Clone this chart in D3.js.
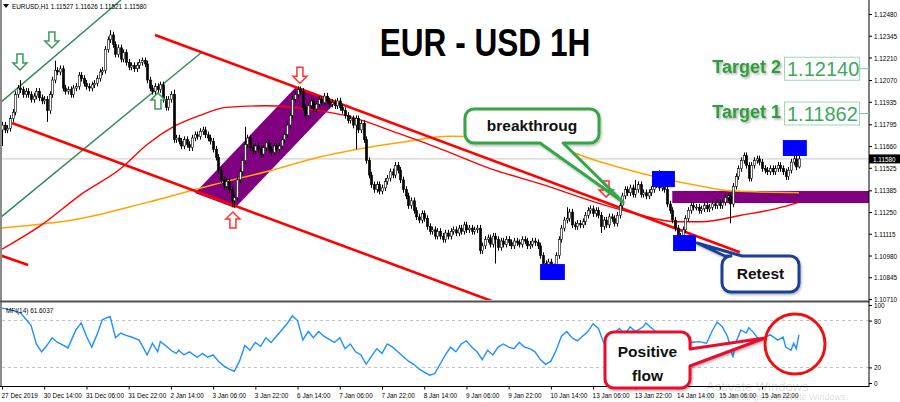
<!DOCTYPE html>
<html><head><meta charset="utf-8">
<script src="https://cdn.jsdelivr.net/npm/d3@7"></script>
<style>
html,body{margin:0;padding:0;background:#fff;}
svg{display:block;font-family:"Liberation Sans",Arial,sans-serif;}
</style></head><body>
<svg id="c" width="900" height="402"></svg>
<script>
// ---------- DATA ----------
const symbolHeader = "EURUSD,H1  1.11527 1.11626 1.11521 1.11580";
const chartTitle = "EUR - USD 1H";
const firstOpen = 1.1176;
const closes = [
1.1179,1.1176,1.1177,1.1183,1.1187,1.1198,1.1202,1.1201,1.1198,1.1200,
1.1198,1.1195,1.1197,1.1200,1.1196,1.1194,1.1195,1.1188,1.1198,1.1207,
1.1213,1.1212,1.1214,1.1202,1.1200,1.1201,1.1198,1.1202,1.1203,1.1210,
1.1208,1.1205,1.1203,1.1202,1.1204,1.1205,1.1208,1.1212,1.1213,1.1226,
1.1232,1.1235,1.1229,1.1223,1.1227,1.1220,1.1224,1.1218,1.1215,1.1216,
1.1214,1.1216,1.1218,1.1219,1.1217,1.1207,1.1202,1.1200,1.1203,1.1201,
1.1204,1.1195,1.1190,1.1195,1.1198,1.1170,1.1171,1.1169,1.1166,1.1170,
1.1167,1.1165,1.1171,1.1173,1.1172,1.1175,1.1176,1.1173,1.1171,1.1169,
1.1164,1.1159,1.1151,1.1145,1.1141,1.1144,1.1139,1.1132,1.1134,1.1145,
1.1150,1.1157,1.1167,1.1171,1.1165,1.1163,1.1166,1.1164,1.1161,1.1165,
1.1168,1.1164,1.1162,1.1166,1.1164,1.1166,1.1170,1.1173,1.1179,1.1185,
1.1195,1.1198,1.1201,1.1200,1.1190,1.1185,1.1191,1.1194,1.1189,1.1192,
1.1195,1.1193,1.1197,1.1194,1.1192,1.1193,1.1191,1.1194,1.1190,1.1188,
1.1185,1.1182,1.1183,1.1179,1.1183,1.1176,1.1180,1.1170,1.1157,1.1148,
1.1142,1.1139,1.1142,1.1138,1.1140,1.1144,1.1146,1.1150,1.1148,1.1154,
1.1151,1.1145,1.1139,1.1135,1.1129,1.1132,1.1126,1.1122,1.1120,1.1124,
1.1121,1.1116,1.1113,1.1114,1.1110,1.1113,1.1110,1.1108,1.1112,1.1110,
1.1113,1.1114,1.1112,1.1115,1.1113,1.1117,1.1114,1.1115,1.1113,1.1114,
1.1115,1.1101,1.1104,1.1108,1.1109,1.1105,1.1110,1.1108,1.1103,1.1107,
1.1105,1.1108,1.1106,1.1104,1.1107,1.1106,1.1105,1.1108,1.1107,1.1104,
1.1105,1.1107,1.1106,1.1104,1.1098,1.1093,1.1090,1.1094,1.1088,1.1091,
1.1098,1.1108,1.1115,1.1120,1.1121,1.1125,1.1117,1.1116,1.1118,1.1117,
1.1119,1.1123,1.1126,1.1127,1.1124,1.1126,1.1123,1.1116,1.1120,1.1117,
1.1122,1.1121,1.1118,1.1123,1.1129,1.1135,1.1139,1.1137,1.1140,1.1136,
1.1139,1.1142,1.1136,1.1137,1.1135,1.1137,1.1139,1.1142,1.1143,1.1140,
1.1144,1.1139,1.1130,1.1126,1.1120,1.1115,1.1108,1.1110,1.1114,1.1121,
1.1126,1.1129,1.1128,1.1128,1.1126,1.1127,1.1129,1.1127,1.1128,1.1130,
1.1129,1.1131,1.1129,1.1131,1.1134,1.1135,1.1130,1.1141,1.1147,1.1152,
1.1157,1.1160,1.1154,1.1146,1.1154,1.1157,1.1158,1.1156,1.1152,1.1151,
1.1150,1.1152,1.1150,1.1152,1.1154,1.1152,1.1150,1.1147,1.1151,1.1156,
1.1158,1.1153,1.1158
];
const highSpikes = {7:1.1207,20:1.1219,41:1.1238,53:1.1221,65:1.1201,92:1.1178,112:1.1203,214:1.1128,240:1.1145,249:1.1151,281:1.1162,302:1.11626};
const lowSpikes  = {0:1.1166,17:1.1181,87:1.1128,88:1.1128,134:1.1164,187:1.1093,206:1.1085,208:1.1084,227:1.1112,256:1.1106,276:1.1118,297:1.1145,302:1.11521};
const redMA = [[-1,1.1101],[15,1.1117],[30,1.1136],[45,1.1152],[55,1.1167],[65,1.1178],[75,1.1185],[85,1.1190],[100,1.1191],[120,1.1188],[130,1.1185],[150,1.1174],[165,1.1165],[185,1.1152],[205,1.1142],[225,1.1131],[240,1.1124],[255,1.1119],[265,1.1119],[280,1.1123],[293,1.1127],[302,1.1131]];
const orangeMA = [[-1,1.1115],[30,1.1121],[55,1.1131],[80,1.1142],[100,1.1150],[120,1.1159],[150,1.1168],[170,1.1172],[190,1.1171],[205,1.1168],[225,1.1157],[250,1.1146],[265,1.1141],[277,1.1138],[302,1.1137]];
const mfiPoints = [[0,96],[3,94],[7,90],[9,82],[11,74],[13,50],[15,40],[17,48],[19,58],[21,52],[23,49],[25,45],[28,68],[30,77],[32,60],[34,46],[36,62],[38,81],[40,84],[41,85],[43,58],[45,64],[47,61],[49,59],[52,55],[55,36],[57,51],[59,40],[60,53],[62,48],[64,42],[66,38],[67,42],[69,36],[71,40],[74,33],
[76,38],[78,33],[80,36],[82,28],[84,22],[86,18],[88,15],[90,28],[92,48],[94,42],[96,52],[98,47],[100,58],[102,52],[104,60],[106,68],[108,76],[110,86],[112,80],[114,55],[116,66],[118,58],[120,66],[122,60],[124,56],[126,52],[128,58],[130,44],[132,50],[134,40],[136,36],[138,24],[140,34],[142,44],[144,38],[146,50],[148,46],[150,40],[152,34],[154,28],[156,24],[158,18],[160,14],[162,10],[164,12],[166,24],[168,36],[170,46],[172,40],[174,50],[176,54],[178,46],[180,40],[182,30],[184,42],[186,36],[188,46],[190,50],[192,46],[194,44],[196,52],[198,46],[200,44],[202,40],[204,30],[206,24],[208,28],[210,42],[212,60],[214,66],[216,58],[218,54],[220,60],[222,66],[224,76],[226,70],[228,52],[230,58],[232,64],[234,70],[236,62],[238,72],[240,66],[243,72],[244,77],[247,68],[250,60],[253,50],[256,40],[258,46],[261,52],[264,53],[267,51],[269,66],[271,78],[273,72],[275,59],[277,33],[278,51],[280,68],[282,64],[283,71],[285,64],[286,59],[288,55],[291,62],[294,55],[296,59],[297,46],[299,42],[300,51],[301,44],[302,61.6]];
const mfiLabel = "MFI(14) 61.6037";
const priceTicks = [1.12480,1.12345,1.12210,1.12070,1.11935,1.11795,1.11660,1.11525,1.11385,1.11250,1.11115,1.10980,1.10845,1.10710];
const currentPrice = 1.11580;
const mfiTicks = [100,80,20,0];
const mfiLevels = [80,20];
const timeLabels = ["27 Dec 2019","30 Dec 14:00","31 Dec 06:00","31 Dec 22:00","2 Jan 14:00","3 Jan 06:00","3 Jan 22:00","6 Jan 14:00","7 Jan 06:00","7 Jan 22:00","8 Jan 14:00","9 Jan 06:00","9 Jan 22:00","10 Jan 14:00","13 Jan 06:00","13 Jan 22:00","14 Jan 14:00","15 Jan 06:00","15 Jan 22:00"];
const barsPerLabel = 16;
const targets = [{label:"Target 2", value:1.12140}, {label:"Target 1", value:1.11862}];
// drawn objects in (bar, price) coordinates
const redTrendLines = [[[57.97,1.12350],[279.6,1.11000]],[[3.8,1.11803],[200,1.10610]],[[-0.8,1.10983],[9.9,1.10921]]];
const greenLines = [[[-0.8,1.11927],[45.1,1.12567]],[[-0.8,1.11213],[75.8,1.12244]]];
const purpleChannel = [[73.1,1.11368],[88.3,1.11275],[126.6,1.11933],[111.4,1.12027]];
const purpleZone = {from:254, to:340, low:1.11306, high:1.11381};
const blueBoxes = [[203.9,213.3,1.10828,1.10927],[246.3,255.0,1.11405,1.11505],[254.3,263.0,1.11008,1.11107],[295.9,305.0,1.11598,1.11697]];
const greenArrows = [{bar:6.8,price:1.12132,dir:"down"},{bar:18.9,price:1.12269,dir:"down"},{bar:59.1,price:1.11990,dir:"up"}];
const redArrows = [{bar:112.9,price:1.12050,dir:"down"},{bar:87.5,price:1.11250,dir:"up"},{bar:228.9,price:1.11343,dir:"down"}];

// ---------- SCALES ----------
const svg = d3.select("#c");
const plotRight = 869;
const squeeze = 0.8; // the screenshot's small texts are horizontally narrow
const x = d3.scaleLinear().domain([0, 288]).range([2, 762]);
const y = d3.scaleLinear().domain([1.10710, 1.12480]).range([299, 14]);
const ym = d3.scaleLinear().domain([0, 100]).range([383, 305]);

// narrow a text horizontally about its own x anchor
function narrow(sel){
  sel.each(function(){
    const ax = +(this.getAttribute("x") || 0);
    d3.select(this).attr("transform", `translate(${ax},0) scale(${squeeze},1) translate(${-ax},0)`);
  });
  return sel;
}

const defs = svg.append("defs");
defs.append("clipPath").attr("id","mainClip").append("rect").attr("x",2).attr("y",0).attr("width",plotRight-2).attr("height",300);
defs.append("clipPath").attr("id","mfiClip").append("rect").attr("x",2).attr("y",303).attr("width",plotRight-2).attr("height",83);
const sh = defs.append("filter").attr("id","tshadow").attr("x","-20%").attr("y","-30%").attr("width","140%").attr("height","160%");
sh.append("feDropShadow").attr("dx",1.5).attr("dy",1.5).attr("stdDeviation",1.2).attr("flood-color","#000").attr("flood-opacity",0.35);
const sh2 = defs.append("filter").attr("id","bshadow").attr("x","-20%").attr("y","-20%").attr("width","140%").attr("height","140%");
sh2.append("feDropShadow").attr("dx",1).attr("dy",1.5).attr("stdDeviation",1.2).attr("flood-color","#000").attr("flood-opacity",0.3);

svg.append("rect").attr("width",900).attr("height",402).attr("fill","#fff");

// ---------- MAIN PANEL ----------
const main = svg.append("g").attr("clip-path","url(#mainClip)");
main.append("line").attr("x1",2).attr("x2",plotRight).attr("y1",y(currentPrice)).attr("y2",y(currentPrice)).attr("stroke","#c8c8c8").attr("stroke-width",1);

const pt = d => [x(d[0]), y(d[1])];
main.append("path").attr("d", "M" + purpleChannel.map(pt).map(p=>p.join(",")).join("L") + "Z").attr("fill","#800080");
main.append("rect").attr("x",x(purpleZone.from)).attr("width",x(purpleZone.to)-x(purpleZone.from))
  .attr("y",y(purpleZone.high)).attr("height",y(purpleZone.low)-y(purpleZone.high)).attr("fill","#800080");

greenLines.forEach(l => main.append("line").attr("x1",x(l[0][0])).attr("y1",y(l[0][1])).attr("x2",x(l[1][0])).attr("y2",y(l[1][1]))
  .attr("stroke","#2e8b57").attr("stroke-width",1.4));

const maLine = d3.line().x(d=>x(d[0])).y(d=>y(d[1])).curve(d3.curveMonotoneX);
main.append("path").attr("d",maLine(orangeMA)).attr("fill","none").attr("stroke","#ffa500").attr("stroke-width",1.5);
main.append("path").attr("d",maLine(redMA)).attr("fill","none").attr("stroke","#ff0000").attr("stroke-width",1.4);

redTrendLines.forEach(l => main.append("line").attr("x1",x(l[0][0])).attr("y1",y(l[0][1])).attr("x2",x(l[1][0])).attr("y2",y(l[1][1]))
  .attr("stroke","#ff0000").attr("stroke-width",2.6));

// candles
const candles = closes.map((c,i) => {
  const o = i ? closes[i-1] : firstOpen;
  const h = highSpikes[i] !== undefined ? highSpikes[i] : Math.max(o,c) + 0.0002;
  const l = lowSpikes[i] !== undefined ? lowSpikes[i] : Math.min(o,c) - 0.0002;
  return {i,o,h,l,c};
});
const cg = main.append("g");
cg.selectAll("line").data(candles).join("line")
  .attr("x1",d=>Math.round(x(d.i))+0.5).attr("x2",d=>Math.round(x(d.i))+0.5)
  .attr("y1",d=>y(d.h)).attr("y2",d=>y(d.l)).attr("stroke","#000").attr("stroke-width",1);
cg.selectAll("rect").data(candles).join("rect")
  .attr("x",d=>Math.round(x(d.i))-0.6).attr("width",2.2)
  .attr("y",d=>y(Math.max(d.o,d.c))).attr("height",d=>Math.max(0.8, Math.abs(y(d.o)-y(d.c))))
  .attr("fill",d=>d.c>=d.o?"#fff":"#000").attr("stroke","#000").attr("stroke-width",0.6);

// blue boxes
main.selectAll("rect.blue").data(blueBoxes).join("rect").attr("class","blue")
  .attr("x",d=>x(d[0])).attr("width",d=>x(d[1])-x(d[0])).attr("y",d=>y(d[3])).attr("height",d=>y(d[2])-y(d[3])).attr("fill","#0000ff");

// arrows
function arrowPath(dir){
  const s = dir==="down" ? 1 : -1;
  const p = [[0,0],[-7,-7*s],[-3,-7*s],[-3,-16*s],[3,-16*s],[3,-7*s],[7,-7*s]];
  return "M"+p.map(q=>q.join(",")).join("L")+"Z";
}
greenArrows.forEach(a => main.append("path").attr("d",arrowPath(a.dir)).attr("transform",`translate(${x(a.bar)},${y(a.price)})`)
  .attr("fill","#fff").attr("stroke","#3a9a5a").attr("stroke-width",1.5));
redArrows.forEach(a => main.append("path").attr("d",arrowPath(a.dir)).attr("transform",`translate(${x(a.bar)},${y(a.price)})`)
  .attr("fill","#fff").attr("stroke","#ff3030").attr("stroke-width",1.5));

// ---------- MFI PANEL ----------
const mfi = svg.append("g").attr("clip-path","url(#mfiClip)");
mfiLevels.forEach(v => mfi.append("line").attr("x1",2).attr("x2",plotRight).attr("y1",ym(v)).attr("y2",ym(v))
  .attr("stroke","#c0c0c0").attr("stroke-dasharray","3,3").attr("stroke-width",1));
mfi.append("path").attr("d", d3.line().x(d=>x(d[0])).y(d=>ym(d[1]))(mfiPoints))
  .attr("fill","none").attr("stroke","#1e90ff").attr("stroke-width",1.4);
narrow(svg.append("text").attr("x",6).attr("y",313).attr("font-size",8).attr("fill","#000").text(mfiLabel));

// ---------- FRAME & AXES ----------
svg.append("rect").attr("x",0).attr("y",0).attr("width",2).attr("height",387).attr("fill","#8a8a8a");
svg.append("line").attr("x1",0).attr("x2",plotRight).attr("y1",301.5).attr("y2",301.5).attr("stroke","#505050").attr("stroke-width",2);

const yAxis = d3.axisRight(y).tickValues(priceTicks).tickFormat(d3.format(".5f")).tickSize(3).tickPadding(2);
const ya = svg.append("g").attr("transform",`translate(${plotRight},0)`).call(yAxis);
ya.select(".domain").attr("d","M0,0V387");
narrow(ya.selectAll("text").attr("font-size",8).attr("font-family","Liberation Sans, Arial, sans-serif"));

// current price tag
svg.append("rect").attr("x",plotRight).attr("y",y(currentPrice)-4.5).attr("width",31).attr("height",9).attr("fill","#000");
narrow(svg.append("text").attr("x",plotRight+4).attr("y",y(currentPrice)+3).attr("font-size",8).attr("fill","#fff").text(d3.format(".5f")(currentPrice)));

const mAxis = d3.axisRight(ym).tickValues(mfiTicks).tickSize(3).tickPadding(2);
const ma = svg.append("g").attr("transform",`translate(${plotRight},0)`).call(mAxis);
ma.select(".domain").remove();
narrow(ma.selectAll("text").attr("font-size",8));

const xAxis = d3.axisBottom(x).tickValues(d3.range(0, timeLabels.length*barsPerLabel, barsPerLabel))
  .tickFormat((d,i)=>timeLabels[i]).tickSize(3).tickPadding(3);
const xa = svg.append("g").attr("transform","translate(0,386.5)").call(xAxis);
xa.select(".domain").attr("d","M0,0H"+plotRight);
narrow(xa.selectAll("text").attr("font-size",8).attr("text-anchor","start").attr("x",-1));

// header
svg.append("path").attr("d","M3,4L9,4L6,8Z").attr("fill","#000");
narrow(svg.append("text").attr("x",12).attr("y",9).attr("font-size",8).attr("fill","#000").text(symbolHeader));

// ---------- ANNOTATIONS ----------
svg.append("text").attr("x",485).attr("y",56).attr("text-anchor","middle").attr("font-size",39).attr("font-weight","bold")
  .attr("fill","#000").text(chartTitle)
  .attr("transform","translate(485,0) scale(0.81,1) translate(-485,0)");

targets.forEach(t => {
  const cy = y(t.value);
  svg.append("text").attr("x",781).attr("y",cy+4).attr("text-anchor","end").attr("font-size",18).attr("font-weight","bold")
    .attr("fill","#2e9e3e").attr("filter","url(#tshadow)").text(t.label);
  svg.append("rect").attr("x",784.5).attr("y",cy-11.5).attr("width",75).attr("height",23).attr("fill","#fff").attr("stroke","#9fd8b5").attr("stroke-width",1);
  svg.append("text").attr("x",787).attr("y",cy+7.5).attr("font-size",20).attr("fill","#3ca860").text(d3.format(".5f")(t.value));
  svg.append("line").attr("x1",860).attr("x2",plotRight).attr("y1",cy).attr("y2",cy).attr("stroke","#7cc79a").attr("stroke-width",1);
});

function calloutPath(x0,y0,x1,y1,r,p){
  let d = `M${x0+r},${y0}`;
  if (p.side==="top") d += `L${p.a},${y0}L${p.tx},${p.ty}L${p.b},${y0}`;
  d += `L${x1-r},${y0}A${r},${r} 0 0 1 ${x1},${y0+r}`;
  if (p.side==="right") d += `L${x1},${p.a}L${p.tx},${p.ty}L${x1},${p.b}`;
  d += `L${x1},${y1-r}A${r},${r} 0 0 1 ${x1-r},${y1}`;
  if (p.side==="bottom") d += `L${p.b},${y1}L${p.tx},${p.ty}L${p.a},${y1}`;
  d += `L${x0+r},${y1}A${r},${r} 0 0 1 ${x0},${y1-r}L${x0},${y0+r}A${r},${r} 0 0 1 ${x0+r},${y0}Z`;
  return d;
}
const callouts = [
  {box:[465,109,599,143], ptr:{side:"bottom",a:540,b:563,tx:623,ty:202}, color:"#35a645", lines:["breakthroug"], ty:[131]},
  {box:[722,256,799,292], ptr:{side:"top",a:725,b:742,tx:697,ty:243}, color:"#1c3f94", lines:["Retest"], ty:[279]},
  {box:[605,332,690,388], ptr:{side:"right",a:349,b:366,tx:765,ty:338}, color:"#e8102e", lines:["Positive","flow"], ty:[357,381]}
];
callouts.forEach(c => {
  svg.append("path").attr("d",calloutPath(c.box[0],c.box[1],c.box[2],c.box[3],9,c.ptr))
    .attr("fill","#fff").attr("stroke",c.color).attr("stroke-width",3).attr("stroke-linejoin","round").attr("filter","url(#bshadow)");
  const cx = (c.box[0]+c.box[2])/2;
  c.lines.forEach((t,k)=> svg.append("text").attr("x",cx).attr("y",c.ty[k]).attr("text-anchor","middle")
    .attr("font-size",15.5).attr("font-weight","bold").attr("fill","#111").text(t));
});
svg.append("circle").attr("cx",795).attr("cy",344).attr("r",30).attr("fill","none").attr("stroke","#ee1111").attr("stroke-width",3);

// watermark (faint, as in the screenshot)
svg.append("text").attr("x",706).attr("y",391).attr("font-size",13).attr("fill","#000").attr("fill-opacity",0.16).text("Activate Windows");
svg.append("text").attr("x",706).attr("y",400).attr("font-size",9).attr("fill","#000").attr("fill-opacity",0.16).text("Go to Settings to activate Windows.");
</script>
</body></html>
